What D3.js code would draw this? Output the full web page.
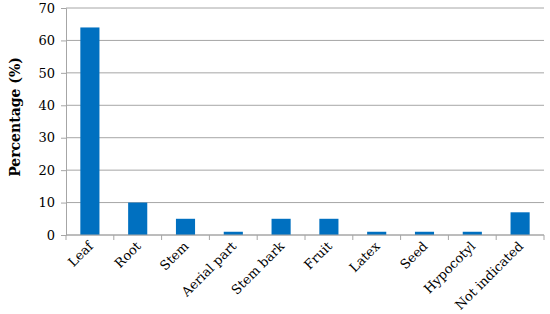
<!DOCTYPE html>
<html>
<head>
<meta charset="utf-8">
<script src="https://cdn.jsdelivr.net/npm/d3@7"></script>
<style>
  body { margin: 0; background: #fff; }
  text { font-family: "DejaVu Serif", "Liberation Serif", serif; }
</style>
</head>
<body>
<div id="vis"></div>
<script>
// plant parts and share of reports (%)
var categories = ["Leaf", "Root", "Stem", "Aerial part", "Stem bark", "Fruit", "Latex", "Seed", "Hypocotyl", "Not indicated"];
var values = [64, 10, 5, 1, 5, 5, 1, 1, 1, 7];
var yTicks = [0, 10, 20, 30, 40, 50, 60, 70];

var w = 550, h = 314;
var margin = {left: 66, right: 6, top: 8, bottom: 79};

var svg = d3.select("#vis").append("svg")
    .attr("width", w)
    .attr("height", h);

var x = d3.scaleBand()
    .domain(categories)
    .range([margin.left, w - margin.right])
    .paddingInner(0.6)
    .paddingOuter(0.3);

var y = d3.scaleLinear()
    .domain([0, 70])
    .range([h - margin.bottom, margin.top]);

// gridlines
svg.append("g")
    .selectAll("line")
    .data(yTicks)
    .enter().append("line")
    .attr("x1", margin.left)
    .attr("x2", w - margin.right)
    .attr("y1", function(d) { return y(d); })
    .attr("y2", function(d) { return y(d); })
    .attr("stroke", "#a6a6a6")
    .attr("stroke-width", 1);

// bars
svg.append("g")
    .selectAll("rect")
    .data(values)
    .enter().append("rect")
    .attr("x", function(d, i) { return x(categories[i]); })
    .attr("y", function(d) { return y(d); })
    .attr("width", x.bandwidth())
    .attr("height", function(d) { return y(0) - y(d); })
    .attr("fill", "#0070c0");

// y axis
var yAxis = svg.append("g")
    .attr("transform", "translate(" + margin.left + ",0)")
    .call(d3.axisLeft(y).tickValues(yTicks).tickSize(5).tickPadding(6));
yAxis.select(".domain").attr("stroke", "#a6a6a6");
yAxis.selectAll(".tick line").attr("stroke", "#a6a6a6");
yAxis.selectAll(".tick text")
    .style("font-size", "13px")
    .style("font-family", "'DejaVu Serif', serif")
    .attr("fill", "#000");

// x axis line + boundary ticks
var step = x.step();
var bounds = d3.range(categories.length + 1).map(function(k) { return margin.left + k * (w - margin.left - margin.right) / categories.length; });
svg.append("line")
    .attr("x1", margin.left).attr("x2", w - margin.right)
    .attr("y1", y(0)).attr("y2", y(0))
    .attr("stroke", "#a6a6a6");
svg.append("g")
    .selectAll("line")
    .data(bounds)
    .enter().append("line")
    .attr("x1", function(d) { return d; })
    .attr("x2", function(d) { return d; })
    .attr("y1", y(0))
    .attr("y2", y(0) + 5)
    .attr("stroke", "#a6a6a6");

// category labels
svg.append("g")
    .selectAll("text")
    .data(categories)
    .enter().append("text")
    .attr("text-anchor", "end")
    .attr("transform", function(d) {
        return "translate(" + [x(d) + x.bandwidth() / 2 + 4, y(0) + 12] + ")rotate(-45)";
    })
    .style("font-size", "13px")
    .text(function(d) { return d; });

// y label
svg.append("text")
    .attr("text-anchor", "middle")
    .attr("transform", "translate(" + [20, 117] + ")rotate(-90)")
    .style("font-size", "14px")
    .style("font-weight", "bold")
    .text("Percentage (%)");
</script>
</body>
</html>
